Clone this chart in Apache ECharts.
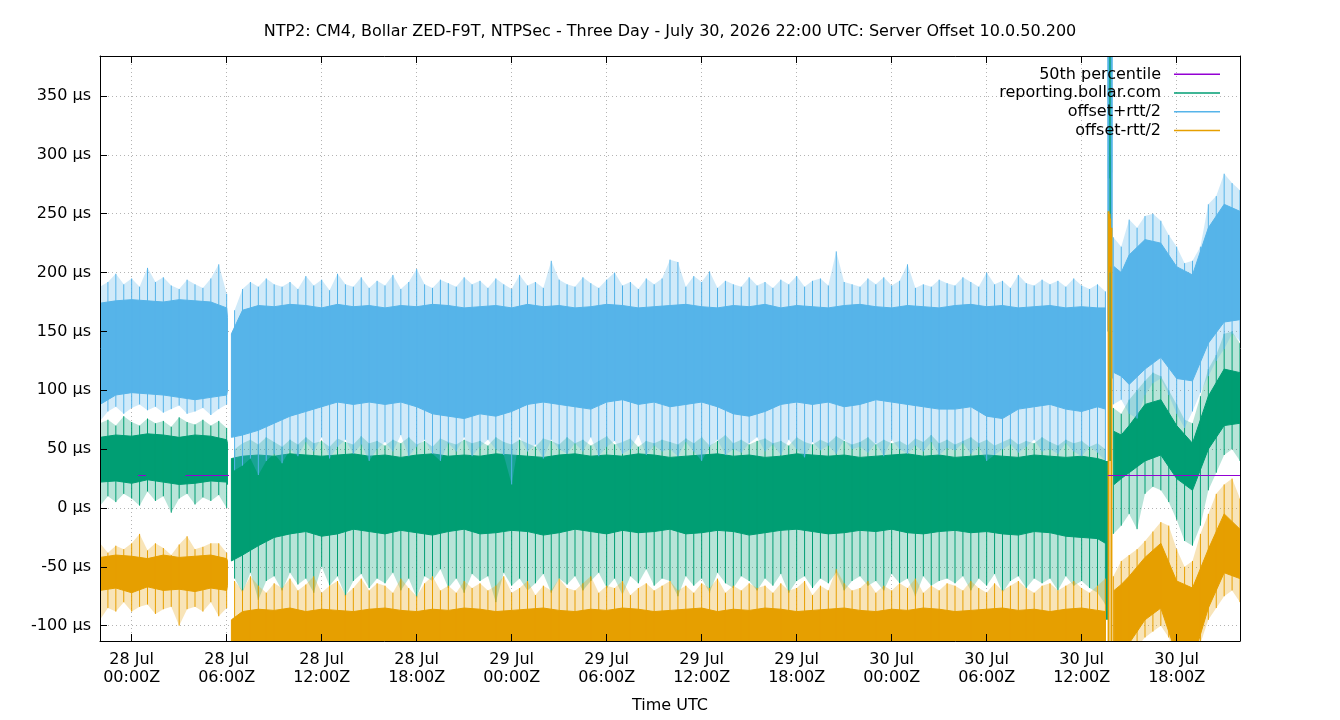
<!DOCTYPE html>
<html>
<head>
<meta charset="utf-8">
<title>NTP2 Server Offset - Three Day</title>
<script src="https://cdn.jsdelivr.net/npm/echarts@6/dist/echarts.min.js"></script>
<style>
  html, body { margin: 0; padding: 0; background: #fff; }
  #chart { width: 1340px; height: 720px; }
</style>
</head>
<body>
<div id="chart"></div>
<script>
// x values are hours since 28 Jul 2026 00:00Z
const xMin = -2, xMax = 70;
const yMin = -113, yMax = 384;

const seriesNames = ['50th percentile', 'reporting.bollar.com', 'offset+rtt/2', 'offset-rtt/2'];
const xTicks = [0, 6, 12, 18, 24, 30, 36, 42, 48, 54, 60, 66];
const yTicks = [-100, -50, 0, 50, 100, 150, 200, 250, 300, 350];

// 50th percentile, µs (only the visible stretches)
const p50T = [0.4, 0.9, null, 3.4, 6.15, null, 61.65, 70];
const p50V = [27.6, 27.6, null, 27.6, 27.6, null, 27.6, 27.6];

// dense body of each trace; null = gap in the data
const coreT = [-2, -1, 0, 1, 2, 3, 4, 5, 6, 6.05, 6.15, 6.3,
  7, 8, 9, 10, 11, 12, 13, 14, 15, 16, 17, 18, 19, 20, 21, 22, 23, 24, 25, 26,
  27, 28, 29, 30, 31, 32, 33, 34, 35, 36, 37, 38, 39, 40, 41, 42, 43, 44, 45, 46,
  47, 48, 49, 50, 51, 52, 53, 54, 55, 56, 57, 58, 59, 60, 61, 61.5, 61.8,
  62.05, 62.5, 63, 64, 65, 66, 67, 68, 69, 70];

const blueHi = [174, 176, 177, 176, 175, 177, 176, 175, 170, 162, null, 148,
  168, 172, 171, 173, 172, 170, 173, 171, 172, 170,
  172, 171, 173, 172, 170, 171, 172, 170, 173, 171,
  172, 170, 171, 173, 172, 170, 171, 172, 173, 171,
  170, 172, 171, 173, 170, 172, 171, 170, 172, 173,
  171, 170, 172, 171, 170, 172, 173, 171, 172, 170,
  171, 172, 170, 171, 170,
  170, null, 205, 200, 215, 228, 225, 205, 198, 238, 258, 252];
const blueLo = [88, 96, 98, 97, 96, 94, 92, 94, 96, 100, null, 60,
  62, 66, 72, 78, 82, 86, 90, 88, 90, 88,
  90, 86, 80, 78, 76, 80, 78, 82, 88, 90,
  88, 86, 84, 90, 92, 88, 90, 86, 88, 90,
  86, 80, 78, 82, 88, 90, 88, 90, 86, 88,
  92, 90, 88, 86, 84, 84, 86, 78, 76, 84,
  86, 88, 84, 82, 86,
  84, null, 115, 112, 105, 118, 128, 110, 108, 140, 158, 160];

const greenHi = [60, 62, 61, 63, 62, 60, 62, 61, 58, 55, null, 42,
  44, 45, 44, 46, 45, 44, 45, 46, 44, 45,
  43, 45, 46, 44, 45, 44, 46, 45, 44, 43,
  45, 46, 44, 45, 44, 46, 45, 43, 44, 45,
  46, 44, 45, 43, 44, 46, 45, 44, 45, 43,
  44, 45, 46, 44, 45, 43, 44, 45, 44, 43,
  45, 44, 43, 44, 42,
  40, null, 65, 62, 70, 88, 92, 70, 55, 95, 118, 115];
const greenLo = [22, 23, 21, 24, 22, 20, 21, 23, 22, 20, null, -45,
  -40, -32, -25, -22, -20, -24, -22, -18, -20, -22,
  -19, -21, -23, -20, -18, -22, -21, -19, -20, -23,
  -21, -18, -20, -22, -19, -21, -20, -18, -22, -21,
  -19, -20, -23, -21, -19, -18, -20, -22, -21, -19,
  -20, -18, -21, -22, -20, -19, -21, -20, -22, -23,
  -20, -21, -24, -25, -26,
  -30, null, 20, 25, 30, 40, 45, 25, 15, 50, 70, 72];

const orangeHi = [-42, -40, -41, -43, -40, -42, -41, -40, -43, -45, null, -95,
  -88, -86, -87, -85, -88, -86, -87, -88, -86, -85,
  -87, -88, -86, -87, -85, -86, -88, -87, -86, -85,
  -87, -88, -86, -87, -85, -86, -88, -87, -86, -85,
  -88, -86, -87, -85, -86, -88, -87, -86, -85, -87,
  -88, -86, -87, -85, -86, -88, -87, -86, -85, -87,
  -86, -88, -86, -85, -87,
  -88, null, -70, -65, -58, -42, -30, -62, -68, -35, -5, -18];
const orangeLo = [-70, -68, -72, -67, -70, -69, -71, -68, -70, -66, null, -130,
  -130, -130, -130, -130, -130, -130, -130, -130, -130, -130,
  -130, -130, -130, -130, -130, -130, -130, -130, -130, -130,
  -130, -130, -130, -130, -130, -130, -130, -130, -130, -130,
  -130, -130, -130, -130, -130, -130, -130, -130, -130, -130,
  -130, -130, -130, -130, -130, -130, -130, -130, -130, -130,
  -130, -130, -130, -130, -130,
  -130, null, -130, -130, -115, -95, -85, -125, -130, -85, -55, -60];

// extremes every 30 minutes, from 27 Jul 22:00Z to 30 Jul 22:00Z
const blueMax = [188, 192, 199, 190, 195, 188, 204, 192, 196, 189, 186, 194,
  190, 187, 195, 207, 182,
  168, 186, 192, 188, 195, 190, 188,
  192, 186, 197, 189, 194, 185, 199, 190, 188, 196, 187, 193,
  189, 198, 186, 192, 203, 190, 187, 194, 191, 188, 196, 190,
  193, 187, 195, 190, 186, 198, 189, 192, 187, 210, 194, 190,
  188, 196, 191, 187, 194, 200, 189, 192, 186, 195, 190, 195,
  211, 209, 188, 197, 192, 201, 187, 193, 190, 188, 196, 189,
  192, 187, 194, 190, 197, 188, 193, 195, 189, 218, 192, 190,
  188, 195, 190, 196, 189, 193, 207, 187, 190, 188, 194, 191,
  189, 196, 192, 188, 200, 190, 193, 187, 198, 191, 189, 194,
  190, 193, 188, 195, 189, 186, 190, 184,
  230, 222, 245, 238, 248, 250, 244, 232, 222, 208, 210, 222, 258, 265, 284, 276, 270];
const blueMin = [74, 82, 86, 80, 85, 88, 83, 86, 81, 84, 87, 80,
  82, 85, 79, 84, 88,
  32, 36, 42, 28, 40, 46, 38,
  50, 44, 56, 48, 60, 42, 52, 58, 46, 54, 40, 50,
  56, 48, 62, 44, 52, 58, 46, 40, 55, 48, 60, 44,
  52, 58, 50, 45, 20, 60, 48, 54, 42, 58, 50, 46,
  55, 48, 60, 44, 52, 57, 46, 50, 62, 45, 53, 48,
  50, 44, 56, 48, 40, 52, 58, 45, 50, 47, 55, 60,
  48, 54, 45, 58, 50, 43, 56, 49, 53, 46, 58, 50,
  52, 47, 55, 44, 58, 50, 46, 53, 48, 56, 45, 51,
  49, 55, 46, 52, 40, 45, 50, 54, 47, 52, 58, 48,
  50, 46, 55, 48, 44, 52, 47, 40,
  88, 92, 80, 76, 96, 106, 110, 96, 80, 68, 82, 98, 112, 125, 135, 148, 142];

const greenMax = [72, 75, 70, 78, 73, 70, 76, 72, 74, 69, 77, 73,
  71, 75, 70, 74, 68,
  50, 55, 58, 54, 60, 56, 52,
  58, 54, 60, 55, 57, 52, 59, 56, 54, 61, 55, 57,
  53, 58, 55, 60, 54, 57, 52, 59, 56, 54, 58, 55,
  57, 53, 60, 56, 54, 58, 55, 52, 59, 57, 54, 60,
  55, 58, 53, 57, 61, 54, 56, 59, 52, 57, 55, 58,
  56, 54, 59, 55, 60, 53, 57, 62, 55, 58, 54, 57,
  59, 55, 57, 53, 60, 56, 54, 58, 55, 61, 57, 54,
  56, 60, 54, 58, 55, 57, 53, 59, 56, 62, 55, 58,
  54, 57, 60, 55, 58, 53, 56, 59, 54, 57, 55, 60,
  56, 53, 58, 55, 57, 52, 55, 50,
  85, 80, 92, 100, 108, 115, 112, 100, 88, 75, 72, 95, 118, 130, 148, 150, 140];
const greenMin = [2, 10, 5, 12, 8, 2, 14, 6, 10, -4, 8, 12,
  3, 9, 6, 11, 0,
  -60, -72, -55, -78, -62, -58, -70,
  -55, -65, -60, -72, -50, -66, -58, -75, -62, -56, -68, -60,
  -64, -55, -70, -60, -76, -58, -62, -52, -68, -60, -72, -56,
  -62, -58, -80, -55, -66, -60, -70, -64, -56, -72, -60, -65,
  -58, -70, -62, -55, -68, -60, -74, -58, -64, -52, -66, -60,
  -62, -75, -58, -66, -60, -72, -55, -64, -68, -58, -62, -70,
  -60, -66, -56, -72, -62, -58, -68, -60, -64, -55, -70, -62,
  -58, -66, -62, -70, -56, -64, -60, -75, -58, -66, -62, -60,
  -64, -58, -70, -60, -66, -56, -72, -62, -58, -68, -60, -64,
  -60, -70, -58, -66, -62, -68, -72, -82,
  -22, -15, -5, -18, 12, 18, 15, 5, -10, -28, -32, -15, 15, 30, 45, 50, 40];

const orangeMax = [-30, -38, -32, -35, -30, -22, -36, -30, -34, -40, -31, -24,
  -35, -33, -30, -30, -38,
  -62, -70, -58, -66, -72, -64, -68,
  -60, -70, -65, -58, -72, -66, -62, -74, -68, -60, -70, -64,
  -66, -72, -60, -68, -75, -64, -58, -70, -66, -72, -62, -68,
  -64, -70, -66, -58, -72, -68, -62, -74, -66, -70, -60, -68,
  -70, -64, -58, -72, -66, -68, -62, -74, -68, -64, -70, -66,
  -62, -70, -66, -72, -64, -68, -60, -72, -66, -70, -64, -68,
  -66, -72, -64, -70, -68, -62, -74, -66, -70, -52, -64, -70,
  -68, -62, -72, -66, -70, -64, -68, -60, -72, -66, -70, -64,
  -66, -70, -62, -68, -72, -64, -70, -66, -62, -68, -72, -66,
  -64, -70, -66, -62, -68, -72, -66, -60,
  -58, -45, -40, -35, -28, -20, -12, -15, -35, -50, -45, -22, -5, 12, 20, 25, 8];
const orangeMin = [-95, -85, -88, -80, -88, -84, -82, -90, -86, -84, -100, -86,
  -84, -88, -80, -92, -85,
  -130, -130, -130, -130, -130, -130, -130,
  -130, -130, -130, -130, -130, -130, -130, -130, -130, -130, -130, -130,
  -130, -130, -130, -130, -130, -130, -130, -130, -130, -130, -130, -130,
  -130, -130, -130, -130, -130, -130, -130, -130, -130, -130, -130, -130,
  -130, -130, -130, -130, -130, -130, -130, -130, -130, -130, -130, -130,
  -130, -130, -130, -130, -130, -130, -130, -130, -130, -130, -130, -130,
  -130, -130, -130, -130, -130, -130, -130, -130, -130, -130, -130, -130,
  -130, -130, -130, -130, -130, -130, -130, -130, -130, -130, -130, -130,
  -130, -130, -130, -130, -130, -130, -130, -130, -130, -130, -130, -130,
  -130, -130, -130, -130, -130, -130, -130, -130,
  -130, -130, -125, -118, -110, -105, -100, -110, -130, -130, -130, -115, -95, -85, -75, -70, -80];

// the excursion around 30 Jul 13:40Z
const blueEvT = [61.68, 61.9];
const blueEvMin = [150, 110];
const blueEvMax = [420, 420];
const greenEvT = [61.6, 61.72, 61.76, 61.8, 61.86];
const greenEvMin = [-95, 280, 290, 40, 285];
const greenEvMax = [40, 420, 420, 300, 420];
const orangeEvT = [61.7, 61.76, 61.8, 61.88];
const orangeEvMin = [-130, 200, 205, -130];
const orangeEvMax = [252, 250, 246, 238];

const spikeT = blueMax.map((_, i) => xMin + 0.5 * i);
const gapT = coreT.filter((t, i) => blueHi[i] == null);

const colors = ['#9400d3', '#009e73', '#56b4e9', '#e69f00'];
const font = 'DejaVu Sans';

function splitAtGaps(points) {
  const segs = [];
  let cur = [];
  points.forEach(p => {
    if (p[1] == null || p[2] == null) {
      if (cur.length) segs.push(cur);
      cur = [];
      return;
    }
    if (cur.length && gapT.some(g => g > cur[cur.length - 1][0] && g < p[0])) {
      segs.push(cur);
      cur = [];
    }
    cur.push(p);
  });
  if (cur.length) segs.push(cur);
  return segs;
}

function bandSeries(name, color, t, lo, hi, opacity) {
  const segs = splitAtGaps(t.map((x, i) => [x, lo[i], hi[i]]));
  return {
    type: 'custom', name: name, clip: true, silent: true,
    itemStyle: { color: color },
    data: segs.map((s, k) => [s[0][0], s[0][1], k]),
    encode: { x: 0, y: 1 },
    renderItem: function (params, api) {
      const s = segs[api.value(2)];
      const top = s.map(p => api.coord([p[0], p[2]]));
      const bot = s.map(p => api.coord([p[0], p[1]])).reverse();
      return {
        type: 'polygon',
        shape: { points: top.concat(bot) },
        style: { fill: color, stroke: color, lineWidth: opacity < 1 ? 0 : 1, opacity: opacity }
      };
    }
  };
}

function spikeSeries(name, color, t, lo, hi, width) {
  return {
    type: 'custom', name: name, clip: true, silent: true,
    itemStyle: { color: color },
    data: t.map((x, i) => [x, lo[i], hi[i]]),
    encode: { x: 0, y: [1, 2] },
    renderItem: function (params, api) {
      const a = api.coord([api.value(0), api.value(1)]);
      const b = api.coord([api.value(0), api.value(2)]);
      return {
        type: 'line',
        shape: { x1: a[0], y1: a[1], x2: b[0], y2: b[1] },
        style: { stroke: color, lineWidth: width }
      };
    }
  };
}

function traceSeries(k, lo, hi, mn, mx, evT, evMin, evMax) {
  return [
    bandSeries(seriesNames[k], colors[k], spikeT, mn, mx, 0.28),
    bandSeries(seriesNames[k], colors[k], coreT, lo, hi, 1),
    spikeSeries(seriesNames[k], colors[k], spikeT, mn, mx, 1),
    spikeSeries(seriesNames[k], colors[k], evT, evMin, evMax, 2)
  ];
}

const chart = echarts.init(document.getElementById('chart'), null, { renderer: 'canvas' });

const frameLine = { show: true, onZero: false, lineStyle: { color: '#000', width: 1 } };
const dotted = { show: true, lineStyle: { color: '#b4b4b4', width: 1, type: [1, 3] } };
const hidden = { show: false };

chart.setOption({
  animation: false,
  backgroundColor: '#fff',
  textStyle: { fontFamily: font },
  title: {
    text: 'NTP2: CM4, Bollar ZED-F9T, NTPSec - Three Day - July 30, 2026 22:00 UTC: Server Offset 10.0.50.200',
    left: 'center', top: 19,
    textStyle: { fontFamily: font, fontSize: 16, fontWeight: 'normal', color: '#000' }
  },
  legend: {
    orient: 'vertical', right: 115, top: 60, align: 'right',
    icon: 'rect', itemWidth: 46, itemHeight: 1.5, itemGap: 0,
    selectedMode: false,
    textStyle: { fontFamily: font, fontSize: 16, color: '#000', lineHeight: 18.7, padding: [0, 8, 0, 0] },
    data: seriesNames.map((n, i) => ({ name: n, itemStyle: { color: colors[i], opacity: 1 } }))
  },
  grid: { left: 100, right: 100, top: 56, bottom: 79 },
  xAxis: [{
    // bottom frame, ticks and labels
    type: 'value', position: 'bottom', min: xMin, max: xMax, z: 10,
    axisLine: frameLine,
    axisTick: { inside: true, length: 7, customValues: xTicks, lineStyle: { color: '#000' } },
    axisLabel: {
      customValues: xTicks,
      margin: 10, color: '#000', fontFamily: font, fontSize: 16, lineHeight: 18,
      formatter: function (v) {
        const day = 28 + Math.floor(v / 24);
        const hh = String(v % 24).padStart(2, '0');
        return day + ' Jul\n' + hh + ':00Z';
      }
    },
    splitLine: hidden,
    name: 'Time UTC', nameLocation: 'middle', nameGap: 57,
    nameTextStyle: { fontFamily: font, fontSize: 16, color: '#000' }
  }, {
    // top frame with mirrored ticks
    type: 'value', position: 'top', min: xMin, max: xMax, z: 10,
    axisLine: frameLine,
    axisTick: { inside: true, length: 7, customValues: xTicks, lineStyle: { color: '#000' } },
    axisLabel: { show: false, customValues: xTicks },
    splitLine: hidden
  }, {
    // grid lines only, under the data
    type: 'value', position: 'bottom', min: xMin, max: xMax,
    axisLine: hidden,
    axisTick: { show: false, customValues: xTicks },
    axisLabel: { show: false, customValues: xTicks },
    splitLine: dotted
  }],
  yAxis: [{
    type: 'value', position: 'left', min: yMin, max: yMax, z: 10,
    axisLine: frameLine,
    axisTick: { show: true, inside: true, length: 7, customValues: yTicks, lineStyle: { color: '#000' } },
    axisLabel: {
      customValues: yTicks,
      margin: 9, color: '#000', fontFamily: font, fontSize: 16,
      formatter: v => v + ' µs'
    },
    splitLine: hidden
  }, {
    type: 'value', position: 'right', min: yMin, max: yMax, z: 10,
    axisLine: frameLine,
    axisTick: hidden, axisLabel: hidden, splitLine: hidden
  }, {
    type: 'value', position: 'left', min: yMin, max: yMax,
    axisLine: hidden,
    axisTick: { show: false, customValues: yTicks },
    axisLabel: { show: false, customValues: yTicks },
    splitLine: dotted
  }],
  series: [].concat(
    traceSeries(1, greenLo, greenHi, greenMin, greenMax, greenEvT, greenEvMin, greenEvMax),
    traceSeries(2, blueLo, blueHi, blueMin, blueMax, blueEvT, blueEvMin, blueEvMax),
    traceSeries(3, orangeLo, orangeHi, orangeMin, orangeMax, orangeEvT, orangeEvMin, orangeEvMax),
    [{
      type: 'line', name: seriesNames[0], silent: true, symbol: 'none', connectNulls: false,
      lineStyle: { color: colors[0], width: 1 }, itemStyle: { color: colors[0] },
      data: p50T.map((t, i) => (t == null ? [null, null] : [t, p50V[i]]))
    }]
  )
});
</script>
</body>
</html>
